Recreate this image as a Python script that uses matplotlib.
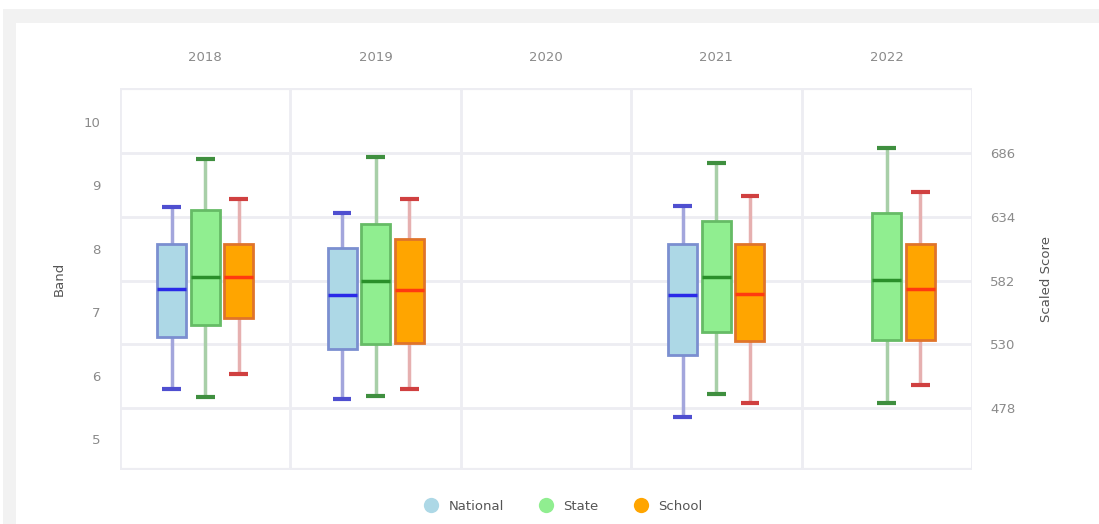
import matplotlib.pyplot as plt
from matplotlib.patches import Rectangle
from matplotlib.lines import Line2D
import numpy as np

years = ["2018", "2019", "2020", "2021", "2022"]
groups = ["National", "State", "School"]

# five-number summaries in bands: (low whisker, Q1, median, Q3, high whisker); None = no data
national = [(5.80, 6.62, 7.37, 8.08, 8.66),
            (5.63, 6.43, 7.27, 8.02, 8.56),
            None,
            (5.36, 6.33, 7.27, 8.08, 8.67),
            None]
state = [(5.67, 6.80, 7.56, 8.61, 9.42),
         (5.68, 6.50, 7.50, 8.39, 9.44),
         None,
         (5.72, 6.69, 7.56, 8.43, 9.35),
         (5.57, 6.56, 7.51, 8.56, 9.59)]
school = [(6.03, 6.91, 7.56, 8.08, 8.78),
          (5.80, 6.52, 7.35, 8.15, 8.79),
          None,
          (5.57, 6.55, 7.29, 8.08, 8.83),
          (5.85, 6.56, 7.37, 8.08, 8.89)]

band_ticks = [5, 6, 7, 8, 9, 10]
score_ticks = [478, 530, 582, 634, 686]

styles = {
    "National": dict(fill="#add8e6", edge="#7b8fd0", med="#2a2ae8", whisk="#a3a6dc", cap="#4f4fd0"),
    "State": dict(fill="#90ee90", edge="#66bb66", med="#2a8f2a", whisk="#a8cfa8", cap="#3f8f3f"),
    "School": dict(fill="#ffa500", edge="#e0742a", med="#ff3a10", whisk="#e6b0b0", cap="#d04040"),
}

fig = plt.figure(figsize=(10.99, 5.24), dpi=100)
# card frame
fig.patches.append(Rectangle((3 / 1099, 0), 1, 1 - 9 / 524, transform=fig.transFigure,
                             facecolor="#f2f2f2", edgecolor="none", zorder=-2))
fig.patches.append(Rectangle((16 / 1099, 0), 1, 1 - 23 / 524, transform=fig.transFigure,
                             facecolor="white", edgecolor="none", zorder=-1))

ax = fig.add_axes([120 / 1099, 1 - 470 / 524, 852 / 1099, 382 / 524])
ax.set_facecolor("none")
ax.set_xlim(-0.5, 4.5)
ax.set_ylim(4.52, 10.53)

grid_c = "#ededf2"
for b in [5.5, 6.5, 7.5, 8.5, 9.5]:
    ax.axhline(b, color=grid_c, lw=2, zorder=1)
for x in np.arange(-0.5, 4.6, 1.0):
    ax.axvline(x, color=grid_c, lw=2, zorder=1)
ax.axhline(10.53, color=grid_c, lw=3, zorder=1)
ax.axhline(4.52, color=grid_c, lw=3, zorder=1)
for s in ax.spines.values():
    s.set_visible(False)

offsets = [-0.197, 0.0, 0.197]
bw = 0.17
cw = 0.11
for gi, (g, data) in enumerate(zip(groups, [national, state, school])):
    st = styles[g]
    for yi, d in enumerate(data):
        if d is None:
            continue
        lo, q1, med, q3, hi = d
        xc = yi + offsets[gi]
        ax.plot([xc, xc], [hi, q3], color=st["whisk"], lw=2.5, zorder=2, solid_capstyle="butt")
        ax.plot([xc, xc], [q1, lo], color=st["whisk"], lw=2.5, zorder=2, solid_capstyle="butt")
        ax.plot([xc - cw / 2, xc + cw / 2], [hi, hi], color=st["cap"], lw=3, zorder=3, solid_capstyle="butt")
        ax.plot([xc - cw / 2, xc + cw / 2], [lo, lo], color=st["cap"], lw=3, zorder=3, solid_capstyle="butt")
        ax.add_patch(Rectangle((xc - bw / 2, q1), bw, q3 - q1, facecolor=st["fill"],
                               edgecolor=st["edge"], lw=2, zorder=3))
        ax.plot([xc - bw / 2, xc + bw / 2], [med, med], color=st["med"], lw=2.5, zorder=4,
                solid_capstyle="butt")

tick_c = "#8a8a8a"
ax.set_yticks(band_ticks)
ax.set_yticklabels([str(t) for t in band_ticks])
ax.tick_params(axis="y", length=0, pad=14, labelsize=9.5, labelcolor=tick_c)
ax.set_xticks(range(len(years)))
ax.set_xticklabels(years)
ax.xaxis.tick_top()
ax.tick_params(axis="x", length=0, pad=17, labelsize=9.5, labelcolor=tick_c)
ax.set_ylabel("Band", fontsize=9.5, color="#555555", labelpad=13)

sec = ax.secondary_yaxis("right", functions=(lambda b: 478 + (b - 5.5) * 52,
                                             lambda s: 5.5 + (s - 478) / 52))
sec.set_yticks(score_ticks)
sec.set_yticklabels([str(t) for t in score_ticks])
sec.tick_params(length=0, pad=13, labelsize=9.5, labelcolor=tick_c)
for s in sec.spines.values():
    s.set_visible(False)
sec.set_ylabel("Scaled Score", fontsize=9.5, color="#555555", labelpad=18)

handles = [Line2D([], [], marker="o", ls="none", markersize=11,
                  markerfacecolor=styles[g]["fill"], markeredgecolor="none") for g in groups]
fig.legend(handles, groups, loc="center", bbox_to_anchor=(560 / 1099, 1 - 506 / 524), ncol=3,
           frameon=False, fontsize=9.5, labelcolor="#555555", handletextpad=0.3, columnspacing=2.2)

fig.savefig("out.png", dpi=100)
